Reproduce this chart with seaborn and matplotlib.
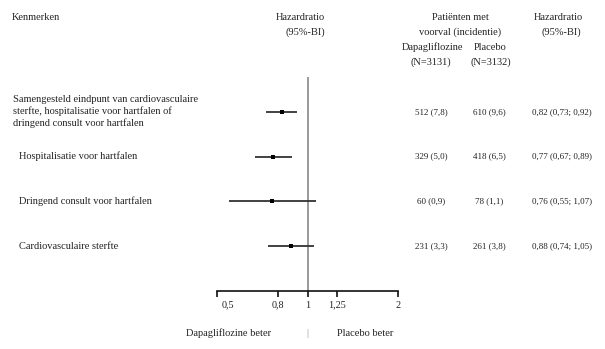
import matplotlib
matplotlib.use("Agg")
import matplotlib.pyplot as plt
import matplotlib.transforms as mtransforms
import seaborn as sns
import pandas as pd

# Forest plot data
labels = [
    "Samengesteld eindpunt van cardiovasculaire\nsterfte, hospitalisatie voor hartfalen of\ndringend consult voor hartfalen",
    "Hospitalisatie voor hartfalen",
    "Dringend consult voor hartfalen",
    "Cardiovasculaire sterfte",
]
hr = [0.82, 0.77, 0.76, 0.88]
ci_low = [0.73, 0.67, 0.55, 0.74]
ci_high = [0.92, 0.89, 1.07, 1.05]
dapa_events = ["512 (7,8)", "329 (5,0)", "60 (0,9)", "231 (3,3)"]
placebo_events = ["610 (9,6)", "418 (6,5)", "78 (1,1)", "261 (3,8)"]
tick_values = [0.5, 0.8, 1, 1.25, 2]
tick_labels = ["0,5", "0,8", "1", "1,25", "2"]

df = pd.DataFrame({"row": range(len(labels)), "hr": hr, "lo": ci_low, "hi": ci_high})

sns.set_theme(style="white")
plt.rcParams["font.family"] = ["Liberation Serif", "DejaVu Serif"]
FS = 7.5      # labels and headers
FS_NUM = 6.5  # table numbers
TXT = "#222222"

W, H = 605, 349
fig = plt.figure(figsize=(W / 100, H / 100), dpi=100)

def fx(px):
    return px / W

def fy(py):
    return 1 - py / H

# axes placed over the forest region: x 217..398 px, y 77..291 px
ax = fig.add_axes([fx(217), fy(291), fx(398) - fx(217), (291 - 77) / H])
ax.set_xscale("log")
ax.set_xlim(0.5, 2)
ax.set_ylim(4.0, -0.778)

ax.axvline(1, color="#9a9a9a", lw=1.4, zorder=1)
ax.hlines(df["row"], df["lo"], df["hi"], color="#333333", lw=1.3, zorder=2)
sns.scatterplot(data=df, x="hr", y="row", marker="s", s=11, color="black",
                edgecolor="black", linewidth=0, ax=ax, zorder=3, legend=False)

for s in ["top", "right", "left"]:
    ax.spines[s].set_visible(False)
ax.spines["bottom"].set_color("#111111")
ax.spines["bottom"].set_linewidth(1.2)
ax.set_xticks(tick_values)
ax.set_xticklabels(tick_labels)
ax.xaxis.set_minor_locator(matplotlib.ticker.NullLocator())
ax.tick_params(axis="x", bottom=True, direction="out", length=4, width=1.2,
               color="#111111", labelsize=7.3, labelcolor=TXT, pad=3)
ax.tick_params(axis="y", left=False, labelleft=False)
ax.set_xlabel("")
ax.set_ylabel("")
first = ax.get_xticklabels()[0]
first.set_transform(first.get_transform()
                    + mtransforms.ScaledTranslation(11 / 100, 0, fig.dpi_scale_trans))

# header
fig.text(fx(12), fy(18), "Kenmerken", fontsize=FS, color=TXT, va="center", ha="left")
fig.text(fx(325), fy(18), "Hazardratio", fontsize=FS, color=TXT, va="center", ha="right")
fig.text(fx(325), fy(32), "(95%-BI)", fontsize=FS, color=TXT, va="center", ha="right")
fig.text(fx(460), fy(18), "Patiënten met", fontsize=FS, color=TXT, va="center", ha="center")
fig.text(fx(460), fy(32), "voorval (incidentie)", fontsize=FS, color=TXT, va="center", ha="center")
fig.text(fx(433), fy(47), "Dapagliflozine", fontsize=FS, color=TXT, va="center", ha="center")
fig.text(fx(490), fy(47), "Placebo", fontsize=FS, color=TXT, va="center", ha="center")
fig.text(fx(431), fy(62), "(N=3131)", fontsize=FS, color=TXT, va="center", ha="center")
fig.text(fx(491), fy(62), "(N=3132)", fontsize=FS, color=TXT, va="center", ha="center")
fig.text(fx(558), fy(18), "Hazardratio", fontsize=FS, color=TXT, va="center", ha="center")
fig.text(fx(561), fy(32), "(95%-BI)", fontsize=FS, color=TXT, va="center", ha="center")

# row texts
tr = mtransforms.blended_transform_factory(fig.transFigure, ax.transData)
for i, lab in enumerate(labels):
    x0 = fx(13) if i == 0 else fx(19)
    fig.text(x0, i, lab, transform=tr, fontsize=FS, color=TXT, va="center",
             ha="left", linespacing=1.3)
    fig.text(fx(431), i, dapa_events[i], transform=tr, fontsize=FS_NUM,
             color=TXT, va="center", ha="center")
    fig.text(fx(489), i, placebo_events[i], transform=tr, fontsize=FS_NUM,
             color=TXT, va="center", ha="center")
    hr_txt = f"{hr[i]:.2f} ({ci_low[i]:.2f}; {ci_high[i]:.2f})".replace(".", ",")
    fig.text(fx(562), i, hr_txt, transform=tr, fontsize=FS_NUM,
             color=TXT, va="center", ha="center")

# footer
fig.text(fx(229), fy(333), "Dapagliflozine beter", fontsize=FS, color=TXT, va="center", ha="center")
fig.text(fx(307), fy(333), "|", fontsize=FS, color="#888888", va="center", ha="center")
fig.text(fx(365), fy(333), "Placebo beter", fontsize=FS, color=TXT, va="center", ha="center")

fig.savefig("out.png", dpi=100, facecolor="white")
